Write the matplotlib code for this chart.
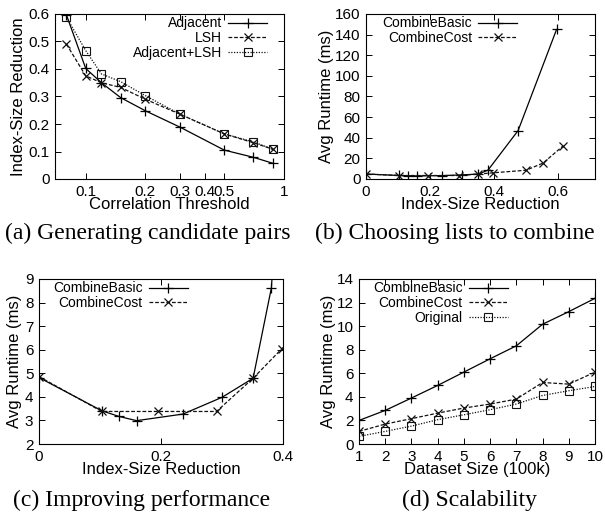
import matplotlib
matplotlib.use("Agg")
import matplotlib.pyplot as plt
import numpy as np

plt.rcParams['font.family'] = ['Liberation Sans', 'DejaVu Sans']

# ---- data ----
thr = [0.08, 0.1, 0.12, 0.15, 0.2, 0.3, 0.5, 0.7, 0.88]
adjacent = [0.596, 0.402, 0.350, 0.296, 0.248, 0.188, 0.105, 0.079, 0.057]
lsh = [0.490, 0.375, 0.350, 0.333, 0.290, 0.235, 0.164, 0.132, 0.108]
adj_lsh = [0.588, 0.467, 0.382, 0.354, 0.303, 0.235, 0.164, 0.135, 0.108]

basic_x = [0.0, 0.103, 0.131, 0.160, 0.236, 0.300, 0.351, 0.381, 0.475, 0.595]
basic_y = [4.82, 3.41, 3.17, 2.99, 3.27, 3.98, 4.79, 8.63, 47.0, 145.0]
cost_x = [0.0, 0.103, 0.195, 0.291, 0.351, 0.398, 0.50, 0.553, 0.615]
cost_y = [4.86, 3.38, 3.38, 3.38, 4.79, 6.04, 8.5, 15.5, 32.0]

size = [1, 2, 3, 4, 5, 6, 7, 8, 9, 10]
sc_basic = [2.0, 2.85, 3.9, 4.97, 6.1, 7.23, 8.33, 10.16, 11.23, 12.36]
sc_cost = [1.07, 1.69, 2.15, 2.62, 3.05, 3.39, 3.81, 5.22, 5.08, 6.1]
sc_orig = [0.65, 1.07, 1.52, 2.06, 2.48, 2.91, 3.39, 4.12, 4.52, 4.88]

captions = ["(a) Generating candidate pairs", "(b) Choosing lists to combine",
            "(c) Improving performance", "(d) Scalability"]

W, H = 605, 515
fig = plt.figure(figsize=(W / 100, H / 100), dpi=100)

def add_ax(l, r, t, b):
    return fig.add_axes([l / W, 1 - b / H, (r - l) / W, (b - t) / H])

FS = 10
TFS = 11
LFS = 12
solid = dict(color='black', lw=0.9, ls='-', marker='+', ms=7, mew=0.9)
dashed = dict(color='#111111', lw=0.9, ls=(0, (3, 1.5)), marker='x', ms=6, mew=0.9)
dotted = dict(color='#111111', lw=0.9, ls=(0, (1, 1.2)), marker='s', ms=5.5, mew=0.8,
              mfc='none')

def style(ax):
    ax.tick_params(direction='in', top=True, right=True, labelsize=TFS, length=4,
                   width=0.7, pad=4)
    ax.tick_params(which='minor', length=0)
    for s in ax.spines.values():
        s.set_linewidth(0.8)

def legend(ax, bbox):
    leg = ax.legend(loc='upper right', bbox_to_anchor=bbox, frameon=False,
                    markerfirst=False, fontsize=FS, handlelength=2.8,
                    handletextpad=0.45, labelspacing=0.05, borderpad=0,
                    borderaxespad=0)
    for col in leg._legend_handle_box.get_children():
        col.align = 'right'
    return leg

# (a)
ax = add_ax(55, 284, 14, 179)
ax.plot(thr, adjacent, label='Adjacent', **solid)
ax.plot(thr, lsh, label='LSH', **dashed)
ax.plot(thr, adj_lsh, label='Adjacent+LSH', **dotted)
ax.set_xscale('log')
ax.set_xlim(0.07, 1)
ax.set_ylim(0, 0.6)
ax.set_xticks([0.1, 0.2, 0.3, 0.4, 0.5, 1])
ax.set_xticklabels(['0.1', '0.2', '0.3', '0.4', '0.5', '1'])
ax.set_yticks([0, 0.1, 0.2, 0.3, 0.4, 0.5, 0.6])
ax.set_yticklabels(['0', '0.1', '0.2', '0.3', '0.4', '0.5', '0.6'])
style(ax)
ax.set_xlabel('Correlation Threshold', fontsize=LFS, labelpad=-1)
ax.set_ylabel('Index-Size Reduction', fontsize=LFS, labelpad=2)
legend(ax, ((267 - 55) / 229, 0.985))

# (b)
ax = add_ax(366, 595, 14, 179)
ax.plot(basic_x, basic_y, label='CombineBasic', **solid)
ax.plot(cost_x, cost_y, label='CombineCost', **dashed)
ax.set_xlim(0, 0.715)
ax.set_ylim(0, 160)
ax.set_xticks([0, 0.2, 0.4, 0.6])
ax.set_xticklabels(['0', '0.2', '0.4', '0.6'])
ax.set_yticks(range(0, 161, 20))
style(ax)
ax.set_xlabel('Index-Size Reduction', fontsize=LFS, labelpad=-1)
ax.set_ylabel('Avg Runtime (ms)', fontsize=LFS, labelpad=0.5)
legend(ax, (0.66, 0.985))

# (c)
ax = add_ax(39, 283, 279, 444)
ax.plot(basic_x, basic_y, label='CombineBasic', **solid)
ax.plot(cost_x, cost_y, label='CombineCost', **dashed)
ax.set_xlim(0, 0.4)
ax.set_ylim(2, 9)
ax.set_xticks([0, 0.2, 0.4])
ax.set_xticklabels(['0', '0.2', '0.4'])
ax.set_yticks(range(2, 10))
style(ax)
ax.set_xlabel('Index-Size Reduction', fontsize=LFS, labelpad=-1)
ax.set_ylabel('Avg Runtime (ms)', fontsize=LFS, labelpad=2)
legend(ax, (0.61, 0.985))

# (d)
ax = add_ax(359, 595, 279, 444)
ax.plot(size, sc_basic, label='CombineBasic', **solid)
ax.plot(size, sc_cost, label='CombineCost', **dashed)
ax.plot(size, sc_orig, label='Original', **dotted)
ax.set_xlim(1, 10)
ax.set_ylim(0, 14)
ax.set_xticks(size)
ax.set_yticks(range(0, 15, 2))
style(ax)
ax.set_xlabel('Dataset Size (100k)', fontsize=LFS, labelpad=-1)
ax.set_ylabel('Avg Runtime (ms)', fontsize=LFS, labelpad=0.5)
legend(ax, (0.631, 0.985))

# captions
cap_font = dict(family=['Liberation Serif', 'DejaVu Serif'], fontsize=17,
                ha='center', va='center')
fig.text(148 / W, 1 - 233 / H, captions[0], **cap_font)
fig.text(455 / W, 1 - 233 / H, captions[1], **cap_font)
fig.text(142 / W, 1 - 500 / H, captions[2], **cap_font)
fig.text(470 / W, 1 - 500 / H, captions[3], **cap_font)

fig.savefig('out.png', dpi=100)
